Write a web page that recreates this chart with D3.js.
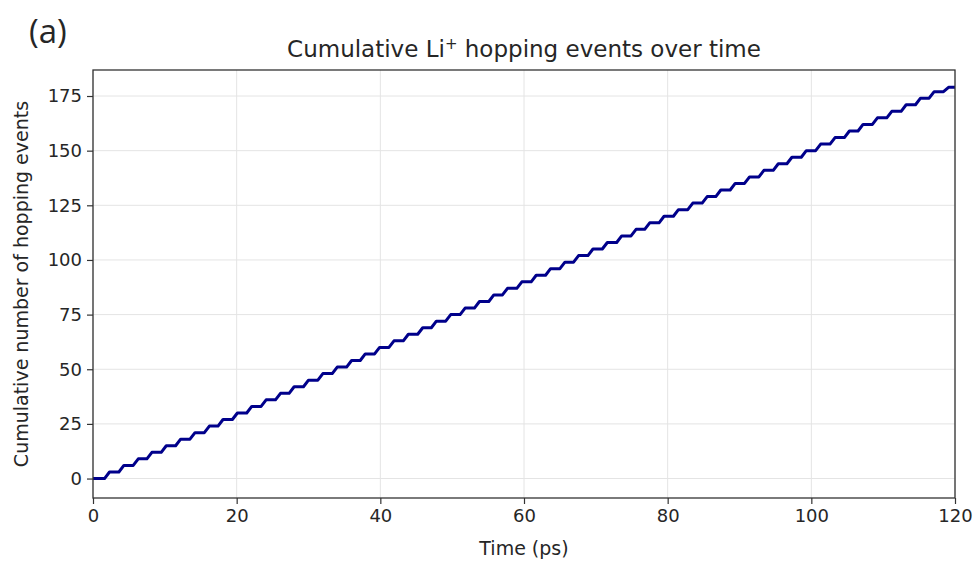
<!DOCTYPE html>
<html>
<head>
<meta charset="utf-8">
<script src="https://cdn.jsdelivr.net/npm/d3@7"></script>
<style>
  body { margin: 0; background: #fff; }
  text { font-family: "DejaVu Sans", sans-serif; fill: #262626; }
  .grid line { stroke: #e4e4e4; stroke-width: 1; }
  .axis path, .axis line { stroke: #333; }
</style>
</head>
<body>
<div id="chart"></div>
<script>
// Cumulative Li+ hopping staircase

// Data
// =========================
// Times (ps) where the count jumps
var hopTimes = [1.6, 3.6, 5.6, 7.5, 9.5, 11.5, 13.5, 15.5, 17.4, 19.4,
    21.4, 23.4, 25.4, 27.3, 29.3, 31.3, 33.3, 35.3, 37.2, 39.2,
    41.2, 43.2, 45.2, 47.1, 49.1, 51.1, 53.1, 55.1, 57.0, 59.0,
    61.0, 63.0, 65.0, 66.9, 68.9, 70.9, 72.9, 74.9, 76.8, 78.8,
    80.8, 82.8, 84.8, 86.7, 88.7, 90.7, 92.7, 94.7, 96.6, 98.6,
    100.6, 102.6, 104.6, 106.5, 108.5, 110.5, 112.5, 114.5, 116.4, 118.4];
// Count reached after each jump
var hopCounts = [3, 6, 9, 12, 15, 18, 21, 24, 27, 30,
    33, 36, 39, 42, 45, 48, 51, 54, 57, 60,
    63, 66, 69, 72, 75, 78, 81, 84, 87, 90,
    93, 96, 99, 102, 105, 108, 111, 114, 117, 120,
    123, 126, 129, 132, 135, 138, 141, 144, 147, 150,
    153, 156, 159, 162, 165, 168, 171, 174, 177, 179];
var xTicks = [0, 20, 40, 60, 80, 100, 120];
var yTicks = [0, 25, 50, 75, 100, 125, 150, 175];

// Layout
var width = 974;
var height = 561;
var plot = { left: 93, right: 955, top: 70, bottom: 498 };
var riseWidth = 0.7; // ps it takes each jump to climb

var svg = d3.select("#chart")
    .append("svg")
    .attr("width", width)
    .attr("height", height);

var xScale = d3.scaleLinear()
    .domain([0, 120])
    .range([plot.left, plot.right]);
var yScale = d3.scaleLinear()
    .domain([-8.9, 186.9])
    .range([plot.bottom, plot.top]);

// Grid lines
svg.append("g")
    .attr("class", "grid")
    .selectAll("line.gx")
    .data(xTicks)
    .enter()
    .append("line")
    .attr("x1", function(d) { return xScale(d); })
    .attr("x2", function(d) { return xScale(d); })
    .attr("y1", plot.top)
    .attr("y2", plot.bottom);

svg.select(".grid")
    .selectAll("line.gy")
    .data(yTicks)
    .enter()
    .append("line")
    .attr("x1", plot.left)
    .attr("x2", plot.right)
    .attr("y1", function(d) { return yScale(d); })
    .attr("y2", function(d) { return yScale(d); });

// Build the staircase points
var points = [[0, 0]];
var prev = 0;
hopTimes.forEach(function(t, i) {
    points.push([t, prev]);
    points.push([Math.min(t + riseWidth, 120), hopCounts[i]]);
    prev = hopCounts[i];
});
points.push([120, prev]);

var line = d3.line()
    .x(function(d) { return xScale(d[0]); })
    .y(function(d) { return yScale(d[1]); });

svg.append("path")
    .datum(points)
    .attr("d", line)
    .attr("fill", "none")
    .attr("stroke", "#00008b")
    .attr("stroke-width", 3)
    .attr("stroke-linejoin", "round");

// Axes
var xAxis = d3.axisBottom(xScale).tickValues(xTicks).tickSize(6).tickPadding(5);
var yAxis = d3.axisLeft(yScale).tickValues(yTicks).tickSize(6).tickPadding(5);

svg.append("g")
    .attr("class", "axis xAxis")
    .attr("transform", "translate(0," + plot.bottom + ")")
    .call(xAxis);
svg.append("g")
    .attr("class", "axis yAxis")
    .attr("transform", "translate(" + plot.left + ",0)")
    .call(yAxis);

svg.selectAll(".axis .domain").remove();
svg.selectAll(".axis text")
    .attr("font-size", 18)
    .style("font-family", "DejaVu Sans, sans-serif")
    .attr("fill", "#262626");
svg.selectAll(".axis line").attr("stroke", "#333").attr("stroke-width", 1.2);

// Frame
svg.append("rect")
    .attr("x", plot.left)
    .attr("y", plot.top)
    .attr("width", plot.right - plot.left)
    .attr("height", plot.bottom - plot.top)
    .attr("fill", "none")
    .attr("stroke", "#333")
    .attr("stroke-width", 1.3);

// Labels
var title = svg.append("text")
    .attr("x", (plot.left + plot.right) / 2)
    .attr("y", 57)
    .attr("text-anchor", "middle")
    .attr("font-size", 23);
title.append("tspan").text("Cumulative Li");
title.append("tspan").attr("font-size", 15).attr("dy", -8).text("+");
title.append("tspan").attr("dy", 8).text(" hopping events over time");

svg.append("text")
    .attr("x", (plot.left + plot.right) / 2)
    .attr("y", 555)
    .attr("text-anchor", "middle")
    .attr("font-size", 19)
    .text("Time (ps)");

svg.append("text")
    .attr("transform", "translate(28," + ((plot.top + plot.bottom) / 2) + ") rotate(-90)")
    .attr("text-anchor", "middle")
    .attr("font-size", 19)
    .text("Cumulative number of hopping events");

svg.append("text")
    .attr("x", 29)
    .attr("y", 43)
    .style("font-family", "Open Sans, sans-serif")
    .attr("font-size", 33)
    .attr("fill", "#111")
    .text("(a)");
</script>
</body>
</html>
